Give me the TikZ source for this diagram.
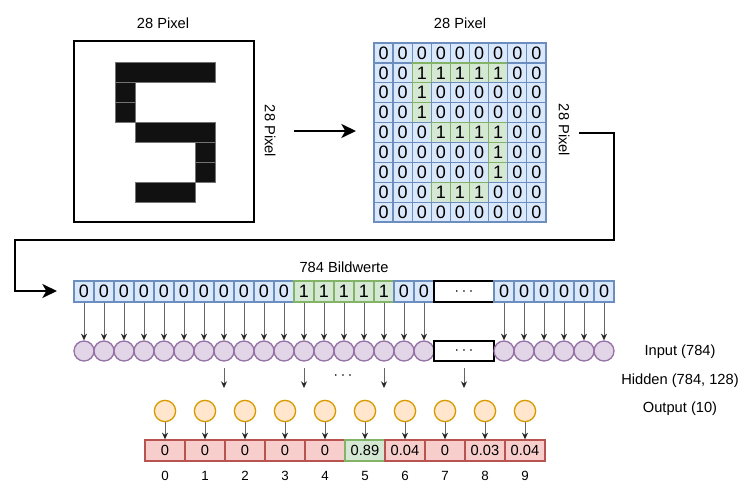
\documentclass[tikz,border=0pt]{standalone}
\usepackage{fontspec}
\setmainfont{Liberation Sans}
\usetikzlibrary{arrows.meta}

\definecolor{zeroFill}{HTML}{DAE8FC}
\definecolor{zeroLine}{HTML}{6C8EBF}
\definecolor{oneFill}{HTML}{D5E8D4}
\definecolor{oneLine}{HTML}{82B366}
\definecolor{inFill}{HTML}{E1D5E7}
\definecolor{inLine}{HTML}{9673A6}
\definecolor{outFill}{HTML}{FFE6CC}
\definecolor{outLine}{HTML}{D79B00}
\definecolor{probFill}{HTML}{F8CECC}
\definecolor{probLine}{HTML}{B85450}

% rows of the digit, 1 = black pixel
\newcommand{\digitrows}{{0,0,0,0,0,0,0,0,0},{0,0,1,1,1,1,1,0,0},{0,0,1,0,0,0,0,0,0},{0,0,1,0,0,0,0,0,0},{0,0,0,1,1,1,1,0,0},{0,0,0,0,0,0,1,0,0},{0,0,0,0,0,0,1,0,0},{0,0,0,1,1,1,0,0,0},{0,0,0,0,0,0,0,0,0}}

\tikzset{every picture/.style={line width=0.75pt}}
\tikzset{
	lbl/.style={inner sep=0.75pt, font=\fontsize{11}{12}\selectfont},
	grid0/.style={draw=zeroLine, fill=zeroFill, line width=1pt, inner sep=0pt,
		minimum width=14.3pt, minimum height=14.9pt, font=\fontsize{13.5}{14}\selectfont},
	grid1/.style={grid0, draw=oneLine, fill=oneFill},
	vcell/.style={minimum width=15pt, minimum height=15.75pt},
	neuron/.style={circle, draw=inLine, fill=inFill, line width=1pt, inner sep=0pt, minimum size=15pt},
	outneuron/.style={circle, draw=outLine, fill=outFill, line width=1pt, inner sep=0pt, minimum size=16pt},
	prob/.style={draw=probLine, fill=probFill, line width=1pt, inner sep=0pt,
		minimum width=30pt, minimum height=15.75pt, font=\fontsize{11}{12}\selectfont},
	pick5/.style={draw=oneLine, fill=oneFill},
	dotsbox/.style={draw=black, line width=1.5pt, fill=white, inner sep=0pt,
		minimum width=45pt, minimum height=15.5pt, font=\fontsize{13}{14}\selectfont},
	pixel/.style={fill={rgb, 255:red, 17; green, 17; blue, 17}, draw=black!55, line width=0.5pt},
	bigarrow/.style={line width=1.5pt, -{Stealth[length=11pt, width=10.5pt, inset=3pt]}},
	feed/.style={draw=black!60, -{Stealth[length=5pt, width=4.5pt, color=black!85]}}
}

\begin{document}
\begin{tikzpicture}[x=0.75pt,y=0.75pt,yscale=-1,xscale=1]
	\useasboundingbox (0,0) rectangle (746,488);
	
	%Shape: Square [id:img] 
	\node[draw, line width=1.5pt, minimum width=135pt, minimum height=135.75pt] (img) at (164,131.5) {};
	%Shape: Pixel strokes of the digit
	\draw[pixel] (115,62) rectangle ++(100,20);
	\draw[pixel] (115,82) rectangle ++(20,20);
	\draw[pixel] (115,102) rectangle ++(20,20);
	\draw[pixel] (135,122) rectangle ++(80,20);
	\draw[pixel] (195,142) rectangle ++(20,20);
	\draw[pixel] (195,162) rectangle ++(20,20);
	\draw[pixel] (135,182) rectangle ++(60,20);
	% Text Node
	\node[lbl] (imgtop) at (163,23) {28 Pixel};
	% Text Node
	\node[lbl, rotate=-90] (imgside) at (270,131) {28 Pixel};
	
	%Shape: Grid [id:grid] 
	\foreach \row [count=\r from 0] in \digitrows {
		\foreach \v [count=\c from 0] in \row {
			\node[grid\v] (g-\r-\c) at ({383.55+19.1*\c},{52.95+19.9*\r}) {\v};
		}
	}
	% Text Node
	\node[lbl] (gridtop) at (460,23) {28 Pixel};
	% Text Node
	\node[lbl, rotate=-90] (gridside) at (564,130) {28 Pixel};
	
	%Straight Lines [id:toGrid] 
	\coordinate (a-start) at (294,131);
	\coordinate (a-end) at (356,131);
	\draw[bigarrow] (a-start) -- (a-end);
	
	%Straight Lines [id:toVector] 
	\coordinate (b-start) at (579,133);
	\coordinate (b-end) at (57,291);
	\draw[bigarrow] (b-start) -| (614,240) -| (15,291) -- (b-end);
	
	% Text Node
	\node[lbl] (vtitle) at (344,267) {784 Bildwerte};
	
	%Shape: Vector and input layer
	\foreach \v [count=\i from 0] in {0,0,0,0,0,0,0,0,0,0,0,1,1,1,1,1,0,0} {
		\node[grid\v, vcell] (v-\i) at ({84+20*\i},291.5) {\v};
		\node[neuron] (n-\i) at ({84+20*\i},351) {};
		\draw[feed] (v-\i) -- (n-\i);
	}
	\node[dotsbox] (vdots) at (464,291.5) {$\cdots$};
	\node[dotsbox] (ndots) at (464,351) {$\cdots$};
	\foreach \i in {0,...,5} {
		\node[grid0, vcell] (w-\i) at ({504+20*\i},291.5) {0};
		\node[neuron] (m-\i) at ({504+20*\i},351) {};
		\draw[feed] (w-\i) -- (m-\i);
	}
	
	%Straight Lines [id:hidden] 
	\foreach \x [count=\k] in {224,304,384,464} {
		\coordinate (h\k-top) at (\x,368);
		\coordinate (h\k-bot) at (\x,388);
		\draw[feed] (h\k-top) -- (h\k-bot);
	}
	% Text Node
	\node[lbl, font=\fontsize{13}{14}\selectfont] (hdots) at (343,376) {$\cdots$};
	
	%Shape: Output layer
	\foreach \p [count=\k from 0] in {0,0,0,0,0,0.89,0.04,0,0.03,0.04} {
		\node[outneuron] (o-\k) at ({165+40*\k},411) {};
		\node[prob, pick\k/.try] (p-\k) at ({165+40*\k},450.5) {\p};
		\node[lbl, font=\fontsize{10}{12}\selectfont] (d-\k) at ({165+40*\k},476) {\k};
		\draw[feed] (o-\k) -- (p-\k);
	}
	
	% Text Node
	\node[lbl] (linput) at (680,352) {Input (784)};
	% Text Node
	\node[lbl] (lhidden) at (680,381) {Hidden (784, 128)};
	% Text Node
	\node[lbl] (loutput) at (680,409) {Output (10)};
	
\end{tikzpicture}
\end{document}
